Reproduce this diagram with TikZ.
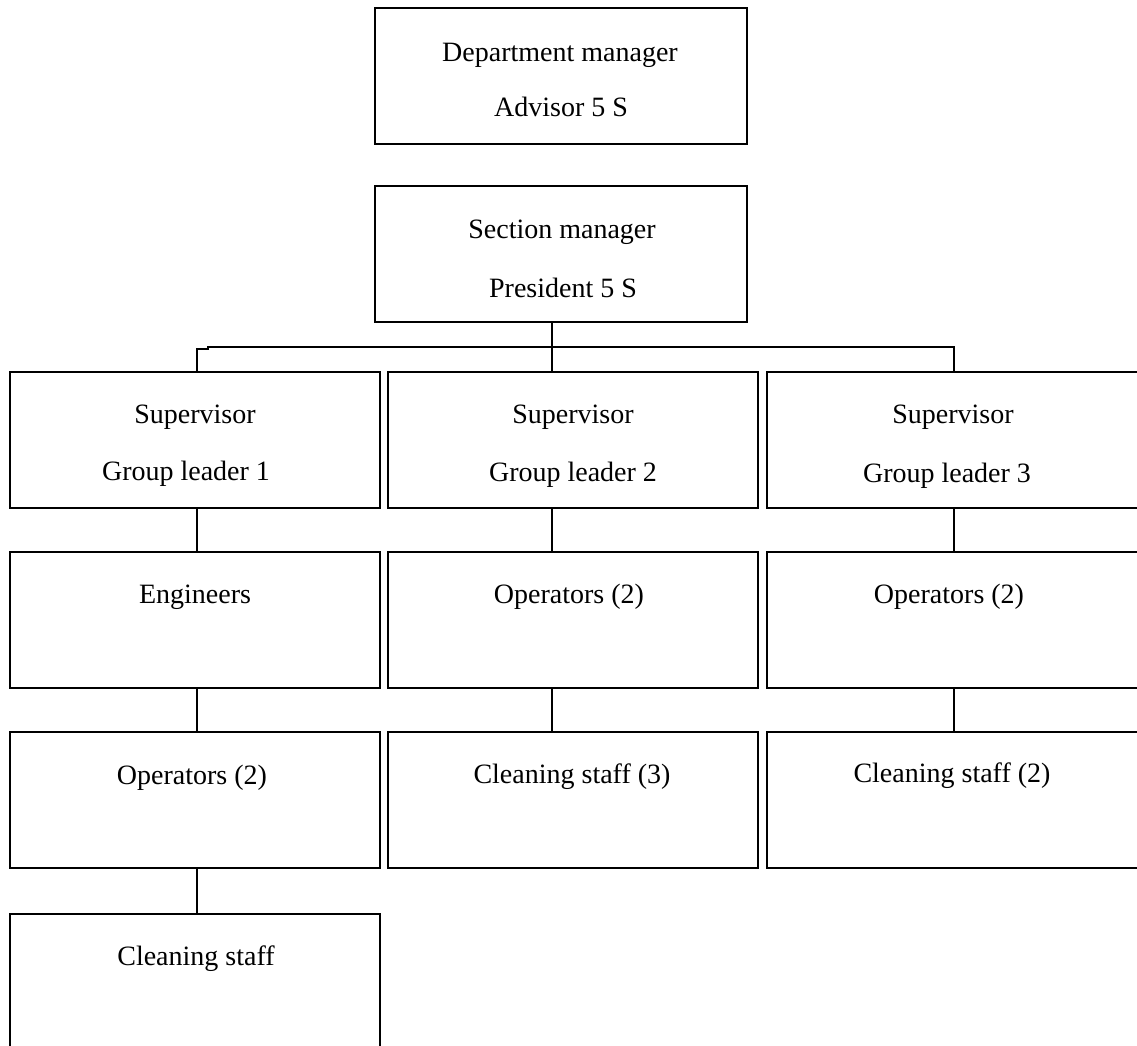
\documentclass[tikz,border=0pt]{standalone}
\usepackage{fontspec}
\setmainfont{Liberation Serif}
\begin{document}
\begin{tikzpicture}[x=1pt,y=-1pt,
  box/.style={draw, line width=1.8pt, rectangle, inner sep=0pt,
              minimum height=136pt},
  wide/.style={box, minimum width=370pt},
  wider/.style={box, minimum width=372pt},
  lbl/.style={anchor=base, inner sep=0pt, font=\fontsize{28}{34}\selectfont},
  wire/.style={line width=1.8pt}]
\useasboundingbox (0,0) rectangle (1137,1045);

% top of the hierarchy
\node[wider] (dm) at (561,76)  {};
\node[wider] (sm) at (561,254) {};
\node[lbl] (dm1) at (560,61)  {Department manager};
\node[lbl] (dm2) at (561,116) {Advisor 5 S};
\node[lbl] (sm1) at (562,238) {Section manager};
\node[lbl] (sm2) at (563,297) {President 5 S};

% left column
\node[wide] (l1) at (195,440) {};
\node[wide] (l2) at (195,620) {};
\node[wide] (l3) at (195,800) {};
\node[wide] (l4) at (195,982) {};
\node[lbl] (l1a) at (195,423) {Supervisor};
\node[lbl] (l1b) at (186,480) {Group leader 1};
\node[lbl] (l2a) at (195,603) {Engineers};
\node[lbl] (l3a) at (192,784) {Operators (2)};
\node[lbl] (l4a) at (196,965) {Cleaning staff};

% middle column
\node[wide] (m1) at (573,440) {};
\node[wide] (m2) at (573,620) {};
\node[wide] (m3) at (573,800) {};
\node[lbl] (m1a) at (573,423) {Supervisor};
\node[lbl] (m1b) at (573,481) {Group leader 2};
\node[lbl] (m2a) at (569,603) {Operators (2)};
\node[lbl] (m3a) at (572,783) {Cleaning staff (3)};

% right column
\node[wider] (r1) at (953,440) {};
\node[wider] (r2) at (953,620) {};
\node[wider] (r3) at (953,800) {};
\node[lbl] (r1a) at (953,423) {Supervisor};
\node[lbl] (r1b) at (947,482) {Group leader 3};
\node[lbl] (r2a) at (949,603) {Operators (2)};
\node[lbl] (r3a) at (952,782) {Cleaning staff (2)};

% connector lines
\coordinate (xL) at (197,0);
\coordinate (xM) at (552,0);
\coordinate (xR) at (954,0);
\coordinate (bus) at (0,347);
\coordinate (jogA) at (208,347);
\coordinate (jogB) at (208,349);

\draw[wire] (sm.south -| xM) -- (xM |- bus) -- (m1.north -| xM);
\draw[wire] (r1.north -| xR) -- (xR |- bus) -- (jogA) -- (jogB)
            -- (jogB -| xL) -- (l1.north -| xL);

\draw[wire] (l1.south -| xL) -- (l2.north -| xL);
\draw[wire] (l2.south -| xL) -- (l3.north -| xL);
\draw[wire] (l3.south -| xL) -- (l4.north -| xL);
\draw[wire] (m1.south -| xM) -- (m2.north -| xM);
\draw[wire] (m2.south -| xM) -- (m3.north -| xM);
\draw[wire] (r1.south -| xR) -- (r2.north -| xR);
\draw[wire] (r2.south -| xR) -- (r3.north -| xR);
\end{tikzpicture}
\end{document}
